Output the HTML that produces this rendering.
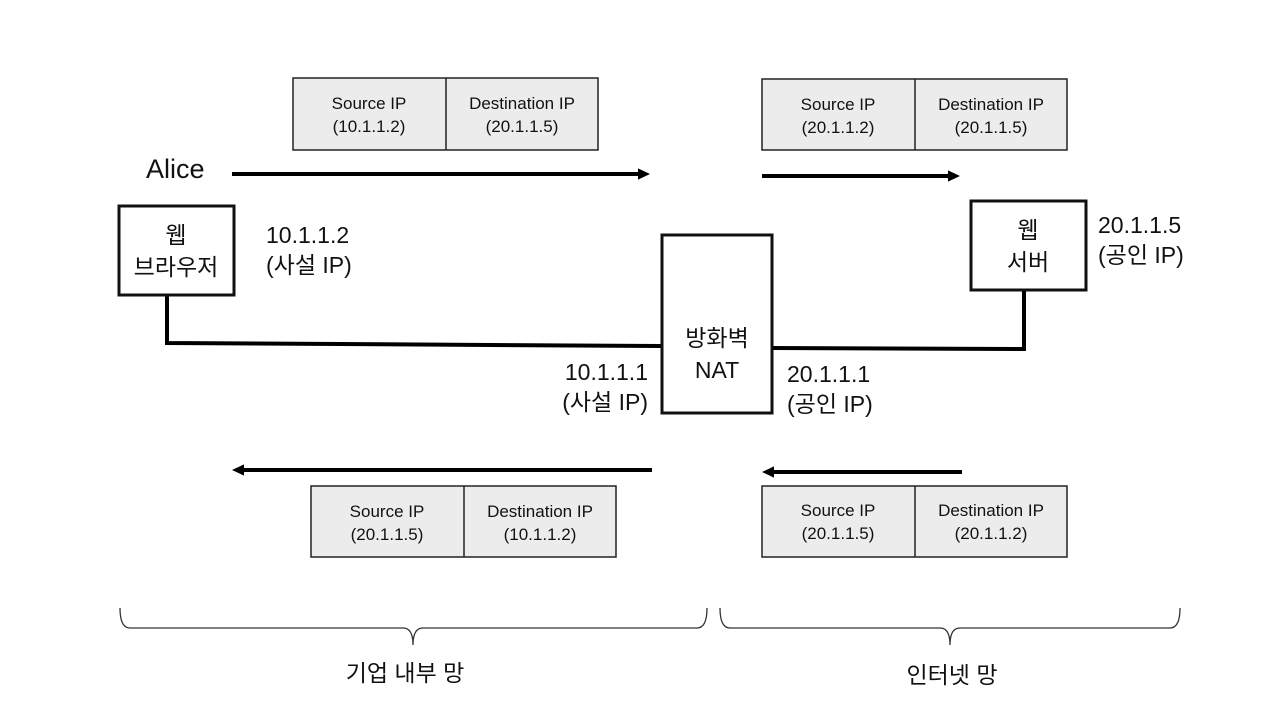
<!DOCTYPE html>
<html><head><meta charset="utf-8"><style>
html,body{margin:0;padding:0;background:#fff;}
svg{display:block;font-family:"Liberation Sans","Noto Sans CJK KR",sans-serif;}
</style></head><body>
<svg width="1280" height="721" viewBox="0 0 1280 721" xmlns="http://www.w3.org/2000/svg">
<defs>
<marker id="ah" markerWidth="4" markerHeight="4" refX="2" refY="2" orient="auto" markerUnits="strokeWidth">
<path d="M0,0.6 L3,2 L0,3.4 Z" fill="#000"/></marker>
</defs>
<g fill="#ececec" stroke="#222" stroke-width="1.5">
<rect x="293" y="78" width="305" height="72"/><line x1="446" y1="78" x2="446" y2="150"/>
<rect x="762" y="79" width="305" height="71"/><line x1="915" y1="79" x2="915" y2="150"/>
<rect x="311" y="486" width="305" height="71"/><line x1="464" y1="486" x2="464" y2="557"/>
<rect x="762" y="486" width="305" height="71"/><line x1="915" y1="486" x2="915" y2="557"/>
</g>
<g font-size="17" text-anchor="middle" fill="#111">
<text x="369" y="109">Source IP</text><text x="369" y="132">(10.1.1.2)</text>
<text x="522" y="109">Destination IP</text><text x="522" y="132">(20.1.1.5)</text>
<text x="838" y="110">Source IP</text><text x="838" y="133">(20.1.1.2)</text>
<text x="991" y="110">Destination IP</text><text x="991" y="133">(20.1.1.5)</text>
<text x="387" y="517">Source IP</text><text x="387" y="540">(20.1.1.5)</text>
<text x="540" y="517">Destination IP</text><text x="540" y="540">(10.1.1.2)</text>
<text x="838" y="516">Source IP</text><text x="838" y="539">(20.1.1.5)</text>
<text x="991" y="516">Destination IP</text><text x="991" y="539">(20.1.1.2)</text>
</g>
<g stroke="#000" stroke-width="4" fill="none">
<line x1="232" y1="174" x2="646" y2="174" marker-end="url(#ah)"/>
<line x1="762" y1="176" x2="956" y2="176" marker-end="url(#ah)"/>
<line x1="652" y1="470" x2="236" y2="470" marker-end="url(#ah)"/>
<line x1="962" y1="472" x2="766" y2="472" marker-end="url(#ah)"/>
<polyline points="167,295 167,343 662,346"/>
<polyline points="772,348 1024,349 1024,290"/>
</g>
<g stroke="#111" stroke-width="3" fill="#fff">
<rect x="119" y="206" width="115" height="89"/>
<rect x="971" y="201" width="115" height="89"/>
<rect x="662" y="235" width="110" height="178"/>
</g>
<g font-size="23" fill="#111">
<text x="146" y="178" font-size="27">Alice</text>
<text x="176" y="243" text-anchor="middle">웹</text>
<text x="176" y="275" text-anchor="middle">브라우저</text>
<text x="1028" y="238" text-anchor="middle">웹</text>
<text x="1028" y="270" text-anchor="middle">서버</text>
<text x="717" y="346" text-anchor="middle">방화벽</text>
<text x="717" y="378" text-anchor="middle">NAT</text>
<text x="266" y="243">10.1.1.2</text>
<text x="266" y="273">(사설 IP)</text>
<text x="1098" y="233">20.1.1.5</text>
<text x="1098" y="263">(공인 IP)</text>
<text x="648" y="380" text-anchor="end">10.1.1.1</text>
<text x="648" y="410" text-anchor="end">(사설 IP)</text>
<text x="787" y="382">20.1.1.1</text>
<text x="787" y="412">(공인 IP)</text>
<text x="405" y="681" text-anchor="middle">기업 내부 망</text>
<text x="952" y="683" text-anchor="middle">인터넷 망</text>
</g>
<g stroke="#333" stroke-width="1.3" fill="none">
<path d="M120,608 Q120,628 130,628 L403,628 Q413,628 413,645 Q413,628 423,628 L697,628 Q707,628 707,608"/>
<path d="M720,608 Q720,628 730,628 L940,628 Q950,628 950,645 Q950,628 960,628 L1170,628 Q1180,628 1180,608"/>
</g>
</svg>
</body></html>
